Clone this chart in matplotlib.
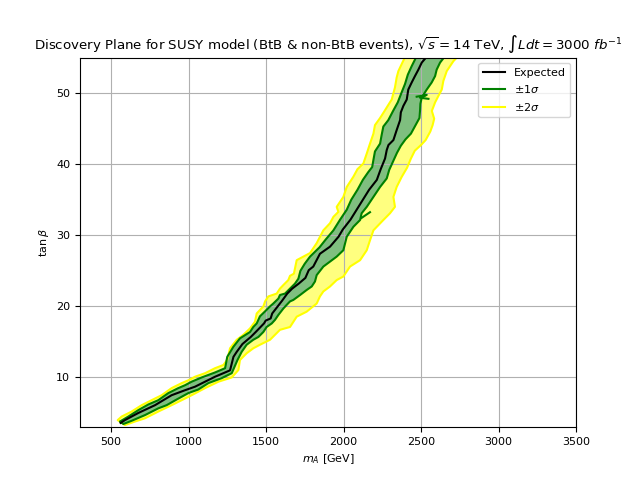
import numpy as np
import matplotlib
matplotlib.use("Agg")
import matplotlib.pyplot as plt
from matplotlib.lines import Line2D

plt.rcParams["font.size"] = 8

# ---- data (m_A [GeV], tan(beta)) ----
exp_x = [562, 590, 676, 784, 891, 977, 1042, 1171, 1268, 1290, 1311, 1348, 1402, 1434, 1487, 1498,
         1530, 1540, 1572, 1604, 1637, 1669, 1711, 1754, 1776, 1805, 1848, 1913, 1968, 1995, 2045,
         2085, 2125, 2165, 2215, 2240, 2268, 2279, 2290, 2322, 2343, 2365, 2370, 2386, 2408, 2418,
         2440, 2461, 2483, 2505, 2540]
exp_y = [3.6, 4.0, 5.0, 6.1, 7.5, 8.2, 8.7, 10.1, 11.0, 12.9, 13.6, 14.7, 15.7, 16.4, 17.6, 18.0,
         18.3, 19.0, 19.9, 20.8, 21.8, 22.5, 23.2, 24.0, 25.1, 25.6, 27.4, 28.4, 29.8, 30.8, 32.2,
         33.6, 35.0, 36.4, 37.8, 39.3, 40.8, 42.0, 42.7, 43.4, 44.8, 46.2, 47.3, 48.2, 49.1, 50.5,
         51.5, 52.4, 53.3, 54.3, 55.2]

g1l_x = [558, 612, 676, 741, 805, 870, 934, 977, 1020, 1085, 1171, 1236, 1250, 1289, 1332, 1397,
         1418, 1440, 1461, 1494, 1526, 1547, 1580, 1590, 1623, 1655, 1687, 1709, 1722, 1750, 1784,
         1845, 1885, 1935, 1978, 2021, 2050, 2090, 2125, 2160, 2185, 2193, 2203, 2236, 2246, 2257,
         2289, 2320, 2350, 2375, 2397, 2415, 2440, 2472]
g1l_y = [3.8, 4.5, 5.4, 6.2, 6.8, 7.8, 8.5, 8.9, 9.4, 10.0, 10.7, 11.3, 12.9, 14.3, 15.5, 16.4,
         17.1, 17.6, 18.6, 19.3, 20.0, 20.4, 21.1, 21.6, 21.8, 22.5, 23.2, 23.9, 25.0, 26.0, 27.0,
         28.3, 29.4, 30.7, 32.2, 33.6, 35.0, 36.4, 37.8, 38.9, 39.6, 40.6, 41.8, 42.9, 44.1, 45.3,
         46.2, 47.5, 48.7, 50.1, 51.3, 52.6, 53.8, 55.2]

g1r_x = [580, 633, 719, 805, 859, 924, 999, 1063, 1128, 1214, 1279, 1316, 1343, 1375, 1418, 1451,
         1483, 1504, 1537, 1558, 1580, 1612, 1633, 1655, 1676, 1720, 1762, 1795, 1816, 1827, 1870,
         1956, 1999, 2021, 2064, 2107, 2117, 2150, 2193, 2236, 2279, 2295, 2320, 2345, 2370, 2400,
         2435, 2465, 2490, 2494, 2496, 2505, 2537, 2569, 2591, 2601, 2623, 2655]
g1r_y = [3.45, 3.9, 4.7, 5.65, 6.1, 6.9, 7.8, 8.3, 9.2, 9.9, 10.6, 12.45, 13.6, 14.6, 15.3, 15.7,
         16.4, 17.1, 17.6, 18.1, 18.8, 19.7, 20.2, 20.7, 20.9, 21.6, 22.3, 22.8, 23.5, 24.4, 25.6,
         27.0, 27.9, 29.8, 31.2, 32.15, 33.1, 34.0, 35.4, 36.8, 38.0, 39.2, 40.4, 41.6, 42.6, 43.5,
         44.3, 45.5, 46.5, 47.6, 48.5, 49.4, 50.5, 51.5, 52.4, 53.3, 54.3, 55.2]

g2l_x = [543, 569, 633, 698, 762, 827, 891, 956, 999, 1042, 1107, 1171, 1225, 1250, 1268, 1311,
         1354, 1397, 1429, 1440, 1483, 1494, 1515, 1569, 1590, 1612, 1644, 1655, 1680, 1698, 1784,
         1827, 1870, 1913, 1935, 1967, 1956, 1999, 2021, 2064, 2090, 2128, 2150, 2171, 2193, 2203,
         2236, 2268, 2285, 2311, 2332, 2343, 2354, 2380, 2400]
g2l_y = [4.0, 4.5, 5.2, 6.1, 6.8, 7.5, 8.5, 9.2, 9.6, 10.1, 10.6, 11.3, 11.75, 12.5, 14.1, 15.3,
         16.0, 16.9, 17.85, 19.0, 20.0, 20.7, 21.4, 21.8, 22.5, 23.0, 23.7, 24.3, 24.6, 26.5, 27.5,
         28.9, 30.7, 31.7, 32.6, 33.3, 34.0, 35.4, 36.8, 38.25, 39.3, 40.1, 41.5, 42.9, 44.3, 45.5,
         46.5, 47.6, 48.2, 49.1, 50.8, 52.2, 53.1, 54.3, 55.2]

g2r_x = [590, 655, 719, 805, 891, 956, 1020, 1107, 1193, 1279, 1322, 1332, 1375, 1418, 1461, 1526,
         1558, 1590, 1655, 1698, 1762, 1827, 1848, 1870, 1913, 1956, 1999, 2042, 2107, 2150, 2171,
         2193, 2257, 2300, 2332, 2322, 2343, 2375, 2410, 2435, 2460, 2500, 2530, 2560, 2575, 2585,
         2570, 2591, 2612, 2634, 2644, 2666, 2709, 2740]
g2r_y = [3.3, 3.8, 4.25, 5.2, 6.1, 6.8, 7.5, 8.5, 9.4, 10.0, 11.05, 12.45, 13.4, 14.1, 14.6, 15.3,
         16.0, 16.7, 17.1, 18.55, 19.25, 20.4, 21.4, 22.1, 22.8, 23.7, 24.2, 25.6, 26.5, 27.9, 29.3,
         30.7, 32.15, 33.1, 34.0, 35.4, 36.8, 38.2, 39.5, 40.8, 41.9, 42.7, 43.4, 44.6, 45.5, 46.4,
         47.5, 48.7, 49.6, 50.5, 51.7, 53.1, 54.5, 55.2]

# small isolated +-1 sigma contour pieces
art1_x = [2472, 2537, 2494, 2548]
art1_y = [49.5, 49.75, 49.35, 49.2]
art2_x = [2117, 2171]
art2_y = [32.45, 33.25]

xticks = [500, 1000, 1500, 2000, 2500, 3000, 3500]

fig, ax = plt.subplots(figsize=(6.4, 4.8), dpi=100)

# yellow band (+-2 sigma)
ax.fill(np.r_[g2l_x, g2r_x[::-1]], np.r_[g2l_y, g2r_y[::-1]], color="yellow", alpha=0.5, lw=0, zorder=1)
# green band (+-1 sigma), drawn over white so it is not mixed with yellow
gx = np.r_[g1l_x, g1r_x[::-1]]
gy = np.r_[g1l_y, g1r_y[::-1]]
ax.fill(gx, gy, color="white", lw=0, zorder=1)
ax.fill(gx, gy, color="green", alpha=0.5, lw=0, zorder=1)

# contour lines
ax.plot(np.r_[g2l_x[::-1], g2r_x], np.r_[g2l_y[::-1], g2r_y], color="yellow", lw=1.5, zorder=2)
ax.plot(np.r_[g1l_x[::-1], g1r_x], np.r_[g1l_y[::-1], g1r_y], color="green", lw=1.5, zorder=2)
ax.plot(art1_x, art1_y, color="green", lw=1.5, zorder=2)
ax.plot(art2_x, art2_y, color="green", lw=1.5, zorder=2)
ax.plot(exp_x, exp_y, color="black", lw=1.5, zorder=3)

ax.set_xlim(300, 3500)
ax.set_ylim(3, 55)
ax.set_xticks(xticks)
ax.grid(True)
ax.set_xlabel(r"$m_A$ [GeV]")
ax.set_ylabel(r"$\tan\beta$")
ax.set_title(r"Discovery Plane for SUSY model (BtB & non-BtB events), $\sqrt{s}=14$ TeV, $\int Ldt=3000\ fb^{-1}$")

handles = [Line2D([], [], color="black", lw=1.5),
           Line2D([], [], color="green", lw=1.5),
           Line2D([], [], color="yellow", lw=1.5)]
ax.legend(handles, ["Expected", r"$\pm 1\sigma$", r"$\pm 2\sigma$"], loc="upper right")

fig.savefig("out.png", dpi=100)
